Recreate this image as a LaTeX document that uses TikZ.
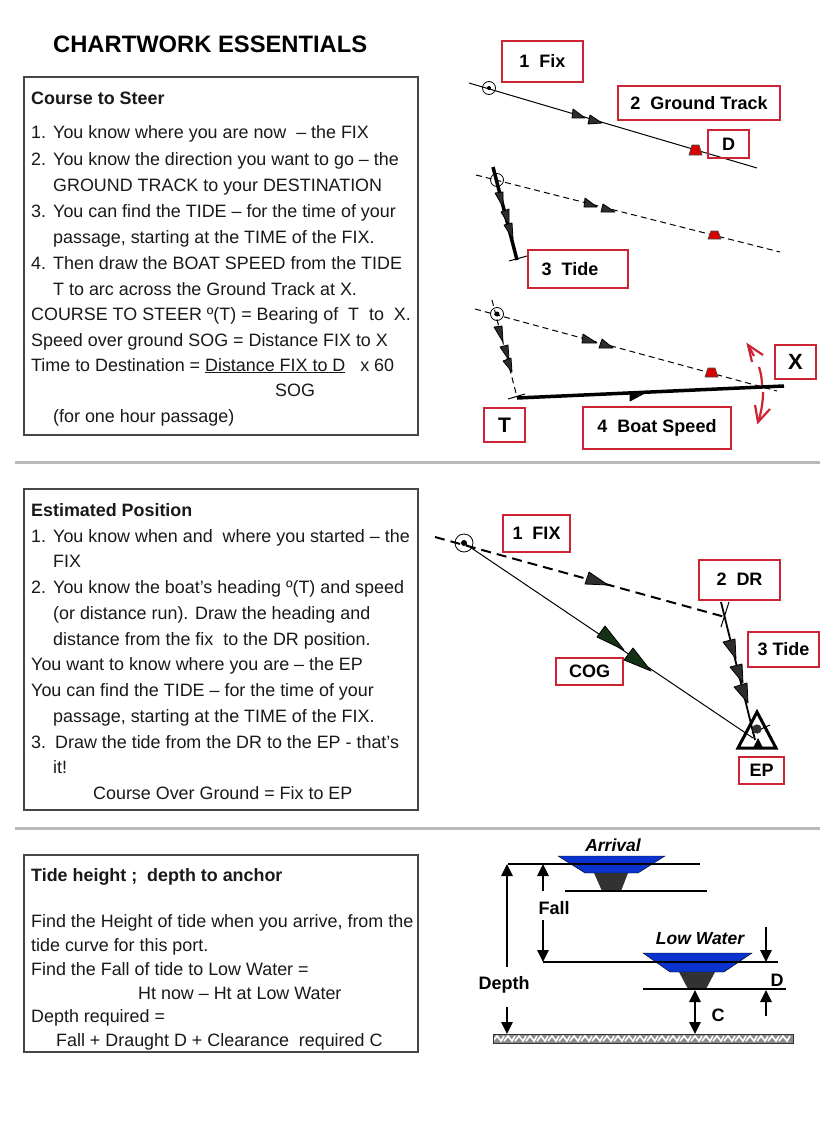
\documentclass[tikz,border=0pt]{standalone}
\usepackage{fontspec}
\setmainfont{Liberation Sans}
\usetikzlibrary{arrows.meta,calc}
\definecolor{rbred}{RGB}{205,35,50}
\definecolor{sepgray}{RGB}{185,185,185}
\definecolor{framek}{RGB}{70,70,70}
\definecolor{tridark}{RGB}{45,45,45}
\definecolor{cogdark}{RGB}{22,50,22}
\definecolor{seablue}{RGB}{10,50,205}
\definecolor{keeldark}{RGB}{50,50,50}
\definecolor{inktext}{RGB}{25,25,25}
\tikzset{
  txt/.style={anchor=base west,inner sep=0pt,font=\fontsize{17.9}{22}\selectfont,text=inktext},
  txtb/.style={txt,font=\fontsize{17.9}{22}\selectfont\bfseries},
  textframe/.style={draw=framek,line width=1.1pt},
  sepline/.style={draw=sepgray,line width=3pt},
  redbox/.style={draw=rbred,line width=2.4pt,inner sep=0pt,font=\fontsize{18}{22}\selectfont\bfseries,align=center},
  dimlabel/.style={inner sep=0pt,font=\fontsize{18}{22}\selectfont\bfseries},
  thinline/.style={draw=black,line width=1pt},
  dashthin/.style={draw=black,line width=1pt,dash pattern=on 6pt off 4pt},
  dashthick/.style={draw=black,line width=2pt,dash pattern=on 10pt off 6pt},
  fatline/.style={draw=black,line width=3.5pt},
  fixring/.style={draw=black,line width=.8pt},
  dimarrow/.style={draw=black,line width=1.1pt,-{Triangle[length=12pt,width=11.5pt]}},
  dimboth/.style={draw=black,line width=1.1pt,{Triangle[length=12pt,width=11.5pt]}-{Triangle[length=12pt,width=11.5pt]}},
  redcurve/.style={draw=rbred,line width=2.2pt},
  shipline/.style={draw=black,line width=1.2pt}
}
\newcommand{\tl}[4][txt]{\node[#1] at (#2,#3) {#4};}
\newcommand{\rb}[6]{%
  \pgfmathsetmacro{\rbcx}{(#2+#4)/2}\pgfmathsetmacro{\rbcy}{(#3+#5)/2}%
  \pgfmathsetmacro{\rbw}{#4-#2}\pgfmathsetmacro{\rbh}{#5-#3}%
  \node[redbox,minimum width=\rbw pt,minimum height=\rbh pt] (#1) at (\rbcx,\rbcy) {#6};}
\newcommand{\tri}[4][tridark]{\fill[#1,draw=black,line width=.8pt,line join=round] #2 -- #3 -- #4 -- cycle;}
\newcommand{\buoy}[3]{\fill[red!85!black,draw=black!70,line width=.7pt] (#1-6.5,#2) -- (#1+6.5,#2) -- (#1+3.5,#2-#3) -- (#1-3.5,#2-#3) -- cycle;}
\newcommand{\fixmark}[4]{\draw[fixring] (#1,#2) circle (#3); \fill[black] (#1,#2) circle (#4);}
\begin{document}
\begin{tikzpicture}[x=1pt,y=-1pt]
\useasboundingbox (0,0) rectangle (840,1121);
\fill[white] (0,0) rectangle (840,1121);
\node[anchor=base west,inner sep=0pt,font=\fontsize{23.75}{28}\selectfont\bfseries] (title) at (53,53) {CHARTWORK ESSENTIALS};
% frames
\draw[textframe] (24,77) rectangle (418,435);
\draw[textframe] (24,489) rectangle (418,810);
\draw[textframe] (24,855) rectangle (418,1052);
\draw[sepline] (15,462) -- (820,462);
\draw[sepline] (15,828) -- (820,828);
% box 1
\tl[txtb]{31}{105}{Course to Steer}
\tl{31}{139}{1.}\tl{53}{139}{You know where you are now\ \ – the FIX}
\tl{31}{165}{2.}\tl{53}{165}{You know the direction you want to go – the}
\tl{53}{191}{GROUND TRACK to your DESTINATION}
\tl{31}{217}{3.}\tl{53}{217}{You can find the TIDE – for the time of your}
\tl{53}{243}{passage, starting at the TIME of the FIX.}
\tl{31}{269}{4.}\tl{53}{269}{Then draw the BOAT SPEED from the TIDE}
\tl{53}{295}{T to arc across the Ground Track at X.}
\tl{31}{320}{COURSE TO STEER º(T) = Bearing of\ \ T\ \ to\ \ X.}
\tl{31}{346}{Speed over ground SOG = Distance FIX to X}
\tl{31}{371}{Time to Destination = \underline{Distance FIX to D}\ \ \ x 60}
\tl{275}{396}{SOG}
\tl{53}{422}{(for one hour passage)}
% box 2
\tl[txtb]{31}{516}{Estimated Position}
\tl{31}{542}{1.}\tl{53}{542}{You know when and\ \ where you started – the}
\tl{53}{567}{FIX}
\tl{31}{593}{2.}\tl{53}{593}{You know the boat’s heading º(T) and speed}
\tl{53}{619}{(or distance run). Draw the heading and}
\tl{53}{645}{distance from the fix\ \ to the DR position.}
\tl{31}{670}{You want to know where you are – the EP}
\tl{31}{696}{You can find the TIDE – for the time of your}
\tl{53}{722}{passage, starting at the TIME of the FIX.}
\tl{31}{748}{3.}\tl{55}{748}{Draw the tide from the DR to the EP - that’s}
\tl{53}{773}{it!}
\tl{93}{799}{Course Over Ground = Fix to EP}
% box 3
\tl[txtb]{31}{881}{Tide height ;\ \ depth to anchor}
\tl{31}{927}{Find the Height of tide when you arrive, from the}
\tl{31}{951}{tide curve for this port.}
\tl{31}{975}{Find the Fall of tide to Low Water =}
\tl{138}{999}{Ht now – Ht at Low Water}
\tl{31}{1022}{Depth required =}
\tl{56}{1046}{Fall + Draught D + Clearance\ \ required C}
% diagram 1
\draw[thinline] (469,83) -- (757,168);
\fixmark{489}{88}{6.5}{2}
\tri{(573,109)}{(572,118)}{(585,118)}
\tri{(590,115)}{(588,124)}{(602,123)}
\buoy{695.5}{155}{10}
\rb{fixbox}{502}{41}{583}{82}{\raisebox{2pt}{1\ \ Fix}}
\rb{gtbox}{618}{86}{780}{120}{\raisebox{-1pt}{2\ \ Ground Track}}
\rb{dbox}{708}{130}{749}{158}{D}
% diagram 2
\draw[dashthin] (476,175) -- (780,252);
\draw[fixring] (497,180) circle (6.5);
\draw[line width=3.5pt,black] (493,167) -- (517,260);
\draw[thinline] (509,261) -- (527,256);
\tri{(585,198)}{(584,207)}{(597,207)}
\tri{(603,204)}{(601,212)}{(615,212)}
\buoy{714.5}{239}{8}
\tri{(495,193)}{(503,192)}{(503,207)}
\tri{(501,212)}{(509,209)}{(509,225)}
\tri{(504,225)}{(512,223)}{(513,239)}
\rb{tidebox}{528}{250}{628}{288}{\hspace*{-16pt}3\ \ Tide}
% diagram 3
\draw[dashthin] (475,309) -- (777,391);
\draw[dashthin] (492,300) -- (517,397);
\fixmark{497}{314}{6.5}{2.5}
\tri{(494,327)}{(502,326)}{(503,342)}
\tri{(500,347)}{(508,345)}{(509,360)}
\tri{(503,361)}{(511,358)}{(512,372)}
\tri{(583,334)}{(582,343)}{(597,343)}
\tri{(602,339)}{(599,348)}{(613,348)}
\buoy{711.5}{377}{9}
\draw[fatline] (517,398) -- (784,386);
\draw[thinline] (508,399) -- (525,394);
\tri[black]{(630,392)}{(630,401)}{(643,394)}
\draw[redcurve] (748,345) -- (754,356);
\draw[redcurve] (759,367) .. controls (761,373) and (762,380) .. (762,385);
\draw[redcurve] (763,392) .. controls (763,402) and (761,414) .. (758,422);
\draw[redcurve,line join=miter] (752,362) -- (748,345) -- (763,355);
\draw[redcurve,line join=miter] (755,405) -- (758,422) -- (770,409);
\rb{tbox}{484}{408}{525}{442}{\fontsize{21}{24}\selectfont T}
\rb{bsbox}{583}{407}{731}{449}{4\ \ Boat Speed}
\rb{xbox}{775}{345}{816}{379}{\fontsize{22}{24}\selectfont X}
% diagram 4
\draw[dashthick] (435,537) -- (725,617);
\draw[thinline] (464,543) -- (753,738);
\fixmark{464}{543}{9}{3}
\tri{(589,572)}{(585,584)}{(608,585)}
\tri[cogdark]{(605,626)}{(597,637)}{(624,650)}
\tri[cogdark]{(633,648)}{(624,660)}{(651,671)}
\draw[line width=1.8pt,black] (721,602) -- (755,740);
\draw[thinline] (729,602) -- (721,627);
\tri{(723,642)}{(735,639)}{(736,659)}
\tri{(730,667)}{(742,664)}{(743,683)}
\tri{(734,687)}{(747,683)}{(748,703)}
\draw[thinline] (770,725) -- (752,733);
\fill[keeldark] (757,729) circle (4.7);
\fill[black] (758,738) -- (753,748) -- (763,748) -- cycle;
\draw[line width=3pt,black,line join=miter] (757,712) -- (776,748) -- (738,748) -- cycle;
\rb{fixtwo}{503}{515}{570}{552}{1\ \ FIX}
\rb{drbox}{699}{560}{780}{600}{\raisebox{2pt}{2\ \ DR}}
\rb{tidetwo}{748}{632}{819}{667}{3 Tide}
\rb{cogbox}{556}{658}{623}{685}{\raisebox{-4pt}{COG}}
\rb{epbox}{739}{757}{784}{784}{\raisebox{-2pt}{EP}}
% diagram 5
\node[dimlabel,font=\fontsize{17.5}{20}\selectfont\bfseries\itshape] (arrival) at (613,845) {Arrival};
\node[dimlabel,font=\fontsize{17.5}{20}\selectfont\bfseries\itshape] (lowwater) at (700,939) {Low Water};
\fill[seablue,draw=black,line width=.4pt] (558,856) -- (665,856) -- (638,873) -- (585,873) -- cycle;
\fill[keeldark] (594,873) -- (628,873) -- (621,891) -- (602,891) -- cycle;
\draw[shipline] (508,864) -- (700,864);
\draw[shipline] (565,891) -- (707,891);
\fill[seablue,draw=black,line width=.4pt] (643,953) -- (752,953) -- (724,972) -- (670,972) -- cycle;
\fill[keeldark] (679,972) -- (715,972) -- (706,989) -- (688,989) -- cycle;
\draw[shipline] (543,962) -- (778,962);
\draw[shipline] (643,989) -- (786,989);
\fill[black!45] (493,1034) rectangle (793,1043);
\foreach \hx in {493,504,...,782}{
  \draw[white,line width=1.7pt,line join=miter] (\hx,1041) -- (\hx+4,1036) -- (\hx+8,1041) -- (\hx+11,1036);
}
\draw[black!80,line width=1pt] (493,1034) rectangle (793,1043);
\draw[dimarrow] (507,967) -- (507,864);
\draw[dimarrow] (507,1007) -- (507,1034);
\draw[dimarrow] (543,891) -- (543,864);
\draw[dimarrow] (543,920) -- (543,962);
\draw[dimarrow] (766,927) -- (766,962);
\draw[dimarrow] (766,1016) -- (766,990);
\draw[dimboth] (695,990) -- (695,1034);
\node[dimlabel] (falllabel) at (554,908) {Fall};
\node[dimlabel] (depthlabel) at (504,985) {Depth};
\node[dimlabel] (dlabel) at (777,980) {D};
\node[dimlabel] (clabel) at (718,1015) {C};
\end{tikzpicture}
\end{document}
